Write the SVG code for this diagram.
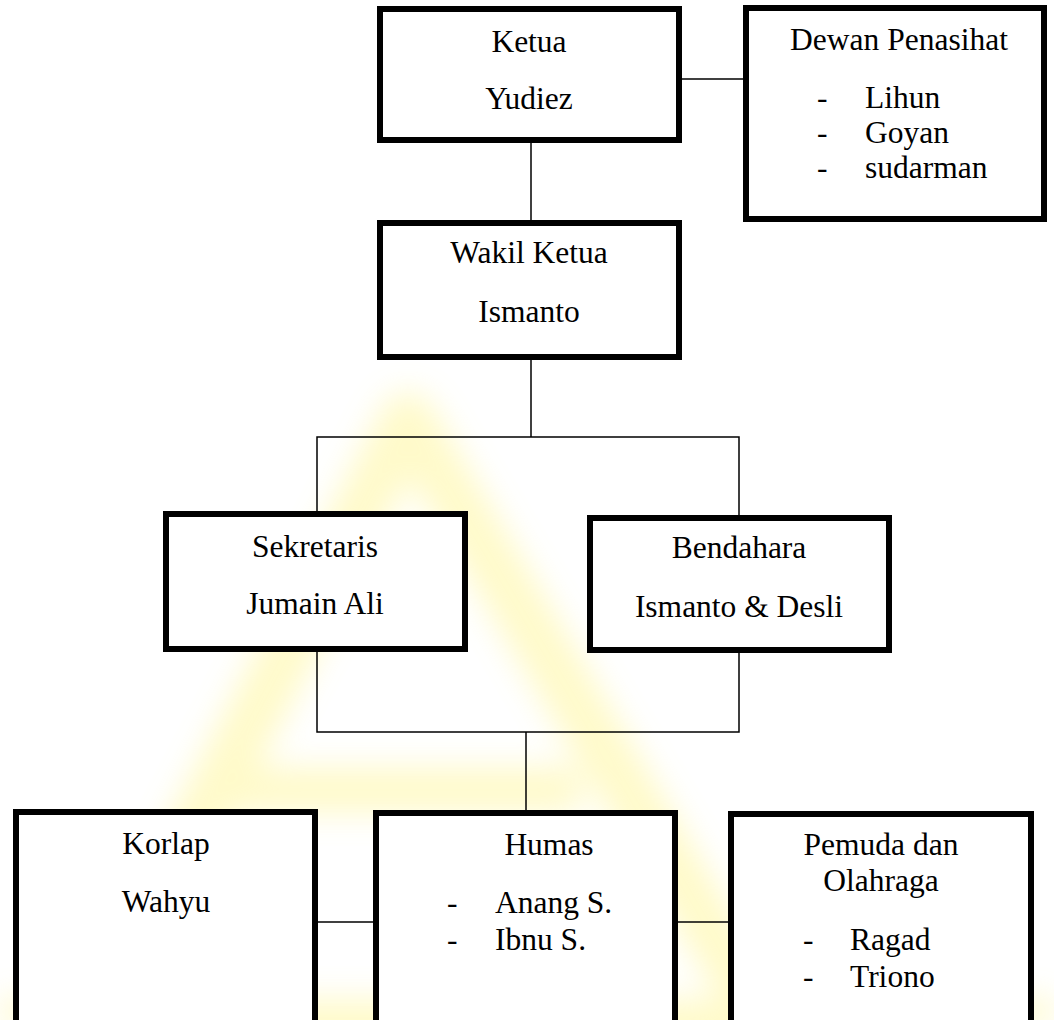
<svg xmlns="http://www.w3.org/2000/svg" width="1054" height="1020" viewBox="0 0 1054 1020">
  <style>
    .box { fill: #ffffff; stroke: #000000; stroke-width: 6; }
    .conn { fill: none; stroke: #000000; stroke-width: 1.5; }
    text { font-family: 'Liberation Serif', 'Tinos', 'Times New Roman', 'DejaVu Serif', serif; font-size: 31.5px; fill: #000000; }
    .c { text-anchor: middle; }
    .wm { fill: none; stroke: #fff37a; stroke-linejoin: round; }
  </style>
  <defs>
    <filter id="soft" x="-20%" y="-20%" width="140%" height="140%">
      <feGaussianBlur stdDeviation="16"/>
    </filter>
  </defs>
  <rect x="0" y="0" width="1054" height="1020" fill="#ffffff"/>

  <g id="watermark" filter="url(#soft)" opacity="0.4">
    <polygon class="wm" points="408,420 90,1030 770,1030" stroke-width="55"/>
    <line class="wm" x1="200" y1="790" x2="580" y2="790" stroke-width="45"/>
    <line class="wm" x1="0" y1="1012" x2="1054" y2="1012" stroke-width="25"/>
  </g>

  <g id="connectors">
    <path class="conn" d="M682 79 H743"/>
    <path class="conn" d="M531 143 V220"/>
    <path class="conn" d="M531 360 V437"/>
    <path class="conn" d="M317 511 V437 H739 V515"/>
    <path class="conn" d="M317 652 V732 H739 V653"/>
    <path class="conn" d="M526 732 V810"/>
    <path class="conn" d="M318 922 H373"/>
    <path class="conn" d="M678 922 H728"/>
  </g>

  <g id="ketua">
    <rect class="box" x="380" y="9" width="299" height="131"/>
    <text class="c" x="529" y="52">Ketua</text>
    <text class="c" x="529" y="109">Yudiez</text>
  </g>

  <g id="dewan-penasihat">
    <rect class="box" x="746" y="8" width="298" height="211"/>
    <text class="c" x="899" y="50">Dewan Penasihat</text>
    <text x="817" y="108">-</text>
    <text x="865" y="108">Lihun</text>
    <text x="817" y="143">-</text>
    <text x="865" y="143">Goyan</text>
    <text x="817" y="178">-</text>
    <text x="865" y="178">sudarman</text>
  </g>

  <g id="wakil-ketua">
    <rect class="box" x="380" y="223" width="299" height="134"/>
    <text class="c" x="529" y="263">Wakil Ketua</text>
    <text class="c" x="529" y="322">Ismanto</text>
  </g>

  <g id="sekretaris">
    <rect class="box" x="166" y="514" width="299" height="135"/>
    <text class="c" x="315" y="557">Sekretaris</text>
    <text class="c" x="315" y="614">Jumain Ali</text>
  </g>

  <g id="bendahara">
    <rect class="box" x="590" y="518" width="299" height="132"/>
    <text class="c" x="739" y="558">Bendahara</text>
    <text class="c" x="739" y="617">Ismanto &amp; Desli</text>
  </g>

  <g id="korlap">
    <rect class="box" x="16" y="812" width="299" height="240"/>
    <text class="c" x="166" y="854">Korlap</text>
    <text class="c" x="166" y="912">Wahyu</text>
  </g>

  <g id="humas">
    <rect class="box" x="376" y="813" width="299" height="240"/>
    <text class="c" x="549" y="855">Humas</text>
    <text x="447" y="913">-</text>
    <text x="495" y="913">Anang S.</text>
    <text x="447" y="950">-</text>
    <text x="495" y="950">Ibnu S.</text>
  </g>

  <g id="pemuda-olahraga">
    <rect class="box" x="731" y="814" width="300" height="240"/>
    <text class="c" x="881" y="855">Pemuda dan</text>
    <text class="c" x="881" y="891">Olahraga</text>
    <text x="803" y="950">-</text>
    <text x="850" y="950">Ragad</text>
    <text x="803" y="987">-</text>
    <text x="850" y="987">Triono</text>
  </g>
</svg>
